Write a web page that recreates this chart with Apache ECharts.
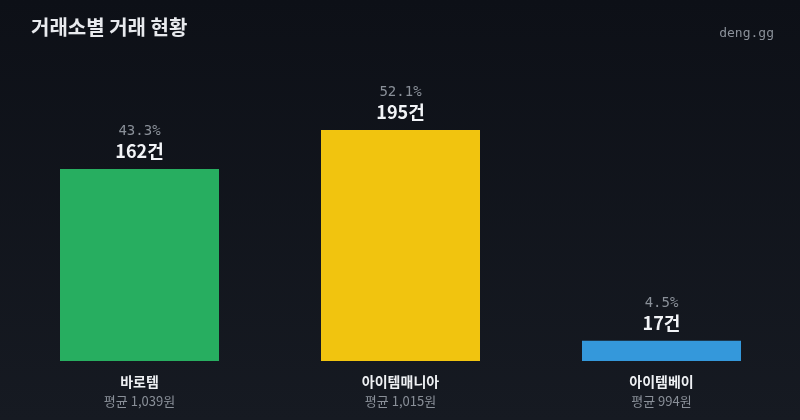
<!DOCTYPE html>
<html><head><meta charset="utf-8">
<script src="https://cdn.jsdelivr.net/npm/echarts@6/dist/echarts.min.js"></script>
<style>html,body{margin:0;padding:0;background:#111419;}#c{width:800px;height:420px;}</style>
</head><body><div id="c"></div>
<script>
const categories = ['바로템', '아이템매니아', '아이템베이'];
const counts = [162, 195, 17];
const shares = ['43.3%', '52.1%', '4.5%'];
const avgPrices = ['1,039', '1,015', '994'];
const colors = ['#27ae60', '#f1c40f', '#3498db'];

const chart = echarts.init(document.getElementById('c'));
const KR = '"Noto Sans CJK KR", "Noto Sans", sans-serif';
chart.setOption({
  backgroundColor: new echarts.graphic.LinearGradient(0, 0, 0, 1, [
    {offset: 0, color: '#0d1017'}, {offset: 1, color: '#161a22'}
  ]),
  animation: false,
  title: [{
    text: '거래소별 거래 현황', left: 26, top: 12,
    textStyle: {color: '#e8eaee', fontSize: 20, fontWeight: 'bold', fontFamily: KR}
  }, {
    text: 'deng.gg', right: 21, top: 22,
    textStyle: {color: '#8a9099', fontSize: 13, fontWeight: 'normal', fontFamily: '"DejaVu Sans Mono", monospace'}
  }],
  grid: {left: 9, right: 8, top: 130, bottom: 59},
  xAxis: {
    type: 'category', data: categories,
    axisLine: {show: false}, axisTick: {show: false},
    axisLabel: {
      margin: 10,
      formatter: (v, i) => '{n|' + v + '}\n{a|평균 ' + avgPrices[i] + '원}',
      rich: {
        n: {color: '#eef0f3', fontSize: 14, fontWeight: 'bold', fontFamily: KR, lineHeight: 22},
        a: {color: '#8a9099', fontSize: 13, fontFamily: KR, lineHeight: 17}
      }
    }
  },
  yAxis: {type: 'value', min: 0, max: 195, show: false, splitLine: {show: false}},
  series: [{
    type: 'bar', barWidth: 159,
    data: counts.map((v, i) => ({value: v, itemStyle: {color: colors[i]}})),
    label: {
      show: true, position: 'top', distance: 7,
      formatter: p => '{p|' + shares[p.dataIndex] + '}\n{v|' + p.value + '건}',
      rich: {
        p: {color: '#8a9099', fontSize: 14, fontFamily: '"DejaVu Sans Mono", monospace', lineHeight: 17, align: 'center'},
        v: {color: '#f2f4f7', fontSize: 18, fontWeight: 'bold', fontFamily: KR, lineHeight: 22, align: 'center'}
      }
    }
  }]
});
</script></body></html>
